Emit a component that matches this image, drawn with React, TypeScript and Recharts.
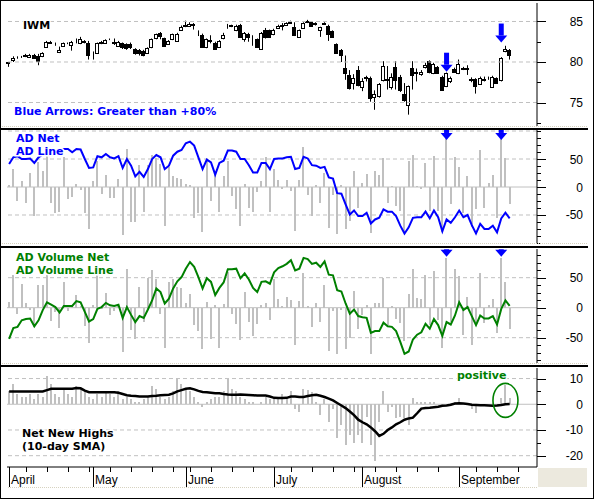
import React from 'react';
import { ComposedChart, Bar, Line, XAxis, YAxis, ReferenceLine, ReferenceDot } from 'recharts';

// IWM daily candles, April 2 - September 20 2007
const OPEN = [
  79.95, 80.2, 80.55, 80.65, 80.9, 80.6, 80.85, 80.8, 80.7, 81.9,
  82.5, 82.25, 81.2, 82.0, 82.35, 82.1, 82.65, 82.3, 82.65, 82.4,
  81.15, 81.1, 82.45, 82.4, 82.85, 82.45, 82.0, 82.3, 82.2, 82.25,
  81.6, 81.5, 81.4, 81.1, 81.8, 82.9, 83.6, 82.9, 82.2, 82.8,
  82.6, 84.0, 84.4, 84.5, 84.65, 83.85, 83.35, 81.8, 82.7, 82.4,
  81.9, 82.9, 84.5, 84.55, 83.9, 84.6, 82.8, 83.5, 82.65, 82.8,
  81.6, 84.0, 83.9, 83.4, 84.2, 84.55, 84.6, 84.95, 84.3, 83.1,
  84.2, 85.0, 84.9, 84.75, 84.0, 84.8, 84.5, 83.8, 82.2, 81.5,
  79.2, 78.4, 77.4, 79.0, 76.9, 78.15, 78.0, 75.7, 75.8, 77.8,
  77.85, 76.9, 79.4, 78.2, 76.1, 74.7, 79.2, 78.75, 78.5, 79.4,
  80.1, 78.6, 79.4, 78.2, 77.0, 77.6, 79.1, 78.7, 79.25, 79.2,
  77.85, 77.9, 77.3, 77.85, 78.05, 76.9, 78.0, 77.8, 81.3, 81.5,
];
const HIGH = [
  80.0, 80.7, 80.7, 80.75, 81.0, 81.0, 81.0, 81.0, 81.2, 82.6,
  82.6, 82.4, 81.9, 82.4, 82.4, 82.6, 82.9, 83.1, 82.7, 82.6,
  81.3, 82.4, 82.6, 82.8, 82.9, 82.9, 82.6, 82.4, 82.3, 82.4,
  81.7, 81.6, 81.5, 81.8, 82.9, 83.5, 83.7, 83.0, 82.7, 83.5,
  83.6, 84.5, 85.1, 84.9, 84.8, 83.9, 83.5, 82.9, 83.3, 82.5,
  82.7, 83.6, 84.7, 84.6, 84.6, 84.7, 83.7, 83.6, 83.3, 82.9,
  83.7, 84.2, 84.0, 84.1, 84.6, 84.8, 84.9, 85.1, 84.9, 84.0,
  84.9, 85.2, 85.0, 84.9, 84.35, 84.9, 84.6, 83.9, 82.3, 81.6,
  80.8, 79.0, 78.5, 79.5, 78.0, 78.3, 78.2, 76.5, 77.4, 80.1,
  79.5, 78.6, 80.1, 78.4, 77.4, 77.1, 80.1, 79.2, 79.0, 79.9,
  80.2, 79.9, 79.5, 78.3, 78.7, 78.2, 79.3, 80.3, 79.4, 79.6,
  78.1, 78.0, 78.2, 78.2, 78.2, 78.3, 78.1, 80.6, 82.0, 81.6,
];
const LOW = [
  79.4, 80.0, 80.4, 80.5, 80.6, 80.5, 80.4, 79.6, 80.6, 81.8,
  82.3, 82.0, 81.1, 81.9, 82.2, 81.4, 82.3, 82.2, 82.3, 80.3,
  80.3, 81.0, 82.2, 82.3, 82.7, 82.1, 81.9, 81.6, 81.5, 81.6,
  80.9, 80.8, 80.7, 81.0, 81.7, 82.8, 82.8, 81.9, 82.1, 82.7,
  82.5, 83.9, 84.3, 84.4, 84.0, 83.2, 81.8, 81.7, 82.3, 81.5,
  81.8, 82.8, 84.1, 84.3, 83.8, 83.0, 82.5, 82.5, 82.0, 81.8,
  81.5, 82.9, 83.0, 83.3, 84.1, 83.9, 84.5, 84.7, 83.2, 83.0,
  84.1, 84.8, 84.4, 84.5, 83.1, 84.6, 82.6, 83.0, 81.0, 80.0,
  77.8, 76.6, 76.6, 77.0, 76.4, 77.6, 75.1, 74.1, 75.6, 77.6,
  76.6, 76.6, 76.6, 76.3, 75.1, 73.5, 76.6, 77.6, 78.3, 79.2,
  78.6, 78.5, 78.6, 76.5, 76.9, 77.4, 78.7, 78.5, 79.0, 78.4,
  77.5, 76.1, 77.2, 77.6, 77.8, 76.8, 77.3, 77.6, 81.2, 80.3,
];
const CLOSE = [
  79.9, 80.5, 80.5, 80.6, 80.7, 80.9, 80.5, 80.1, 81.1, 82.5,
  82.4, 82.2, 81.5, 82.3, 82.3, 82.45, 82.55, 82.8, 82.5, 80.9,
  81.1, 82.3, 82.4, 82.7, 82.8, 82.35, 82.5, 81.8, 81.7, 81.8,
  81.1, 81.1, 80.9, 81.7, 82.8, 83.4, 83.2, 82.0, 82.6, 83.4,
  83.5, 84.3, 84.6, 84.7, 84.6, 83.8, 81.9, 82.8, 82.6, 81.6,
  82.6, 83.35, 84.4, 84.45, 84.5, 83.1, 83.6, 83.1, 82.55, 81.9,
  83.6, 83.1, 83.1, 84.0, 84.5, 84.5, 84.8, 84.8, 83.35, 83.9,
  84.8, 84.95, 84.5, 84.7, 84.3, 84.7, 83.5, 83.1, 81.1, 80.9,
  78.7, 76.8, 78.0, 77.2, 77.6, 78.05, 75.5, 76.0, 77.3, 79.5,
  77.75, 78.1, 77.8, 76.6, 75.3, 77.0, 78.4, 78.65, 78.8, 79.6,
  78.75, 79.7, 78.7, 76.6, 78.6, 78.0, 78.8, 79.7, 79.15, 79.1,
  77.8, 77.0, 78.0, 77.8, 78.0, 78.1, 77.4, 80.5, 81.6, 80.9,
];

const AD_NET = [
  3, 32, -25, 10, -28, 25, -51, 45, 29, 55,
  -29, -47, -44, 53, -22, -18, 5, -6, -47, -75,
  10, 47, -12, 22, -19, -20, 15, -85, 68, -62,
  -63, 39, -45, 39, 57, 51, 41, -70, 35, 20,
  16, 15, 5, 3, -55, -47, -80, 47, -25, 24,
  -45, 20, 47, -16, -40, -69, 5, -38, -45, -9,
  10, 54, -45, 32, 12, -3, 12, -8, -78, 13,
  72, -14, -52, 4, -28, 25, -74, -14, -84, 3,
  -75, -60, 28, -37, 7, 23, -83, 28, 21, 51,
  -28, 1, -34, -43, -81, 46, 57, 2, -3, 42,
  -43, 55, -43, -81, 98, -31, 54, 36, -46, 19,
  -72, -40, 66, -37, 7, 22, -55, 86, 51, -31,
];
const AD_LINE = [
  41, 53, 55, 50, 50, 51, 43, 53, 58, 62,
  60, 64, 66, 68, 68, 62, 68, 67, 50, 34,
  35, 55, 53, 59, 53, 51, 55, 34, 50, 38,
  19, 27, 18, 32, 50, 57, 53, 32, 38, 56,
  63, 66, 78, 81, 74, 53, 32, 49, 44, 22,
  43, 47, 65, 65, 63, 50, 50, 39, 26, 26,
  43, 43, 32, 50, 51, 51, 53, 54, 32, 34,
  54, 51, 39, 38, 34, 36, 17, 15, -11, -12,
  -31, -49, -42, -52, -52, -46, -65, -58, -55, -40,
  -44, -44, -52, -69, -83, -72, -55, -54, -54, -44,
  -56, -42, -54, -79, -58, -64, -54, -42, -54, -50,
  -68, -83, -66, -75, -75, -69, -81, -56, -46, -56,
];
const ADV_NET = [
  9, 54, -10, 40, 7, -4, -32, 37, 38, 54,
  -23, -7, -34, 42, -6, 4, 21, 3, -31, -59,
  5, 55, -3, 25, -12, -6, 6, -74, 65, -38,
  -52, 34, -24, 50, 62, 48, -10, -68, 43, 47,
  34, 32, 8, 22, -29, -39, -69, 10, -52, 5,
  -67, 6, 59, -10, -27, -54, 26, -24, -47, -27,
  4, 7, -21, 48, 14, 3, 18, 12, -62, 11,
  58, 3, -32, 8, -24, 37, -73, -6, -77, -4,
  -69, -51, 27, -36, -13, 4, -78, 7, 8, 49,
  -29, 3, -19, -25, -56, 22, 64, 16, 15, 54,
  -29, 61, -21, -68, 82, -24, 65, 52, -45, 18,
  -62, -29, 58, -25, 5, 15, -43, 82, 42, -35,
];
const ADV_LINE = [
  -52, -34, -32, -21, -19, -18, -31, -21, -4, 9,
  5, 1, -8, 3, 3, 3, 11, 9, -7, -23,
  -19, -2, 1, 8, 4, 3, 5, -17, 1, -12,
  -24, -14, -17, -3, 12, 32, 26, 7, 15, 32,
  44, 51, 65, 76, 68, 51, 32, 49, 43, 21,
  33, 42, 64, 64, 65, 49, 57, 47, 33, 26,
  43, 44, 40, 59, 66, 69, 73, 79, 62, 65,
  83, 81, 73, 75, 68, 77, 55, 54, 29, 27,
  7, -10, -3, -14, -16, -17, -42, -39, -39, -25,
  -31, -32, -39, -57, -77, -73, -53, -45, -41, -27,
  -35, -19, -29, -47, -24, -28, -13, 9, -4, 1,
  -14, -29, -13, -18, -18, -14, -28, -2, 12, 3,
];
const NNH = [
  5, 8, 4, 3, 3, 4, 2, 4, 3, 11,
  8, 4, 3, 6, 4, 3, 7, 6, 5, 3,
  2, 4, 3, 5, 4, 3, 5, 2, 3, 2,
  1, 1, 2, 3, 7, 6, 3, 2, 3, 5,
  10, 8, 6, 5, 3, 1, -1, 1, 2, 3,
  3, 5, 10, 6, 5, 3, 2, 1, 1, 0,
  1, 3, 2, 3, 3, 4, 3, 5, -2, -3,
  6, 5.6, 4.7, 1, -4, 2, -7, -2, -13, -8,
  -16, -12, -15, -12, -15, -5, -16, -22, -7, 5,
  -3, -1, -5.5, -5, -5.5, -8, 2.4, 0.8, 1, 0.8,
  1, 0.8, 0, -1, 0, 0.4, 1, 2.4, 0, 0,
  -2, -3.5, 0, -0.3, 0, -1, 0, 2.4, 7.3, 2.4,
];
const NNH_SMA = [
  5, 5, 5, 5, 5, 5, 5, 5, 5, 5.5,
  6, 6, 6, 6, 6, 6, 6.3, 6.2, 5.3, 4.7,
  4.7, 4.7, 4.7, 4.7, 4.7, 4.7, 4.5, 4.0, 3.5, 3.3,
  3.2, 3.0, 3.0, 3.0, 3.2, 3.3, 3.5, 3.6, 3.7, 4.2,
  5.0, 5.5, 6.0, 6.2, 5.8, 5.2, 4.8, 4.7, 4.5, 4.3,
  4.3, 4.0, 3.8, 3.7, 3.7, 3.8, 3.7, 3.6, 3.5, 3.4,
  3.4, 3.4, 3.0, 2.5, 2.4, 2.4, 2.5, 3.0, 3.0, 2.8,
  2.8, 3.2, 3.5, 3.7, 3.3, 2.8, 2.2, 1.5, 0.5, -0.5,
  -1.5, -2.8, -4.2, -6.0, -7.0, -7.8, -9.0, -10.5, -12.3, -11.5,
  -10.0, -9.0, -7.8, -7.0, -6.0, -5.5, -5.2, -3.5, -1.7, -1.5,
  -1.4, -1.2, -1.0, -0.6, -0.5, -0.2, 0.3, 0.4, 0.3, 0.1,
  -0.2, -0.3, -0.4, -0.4, -0.5, -0.6, -0.5, -0.3, 0.0, 0.1,
];

// axis slots run past the last trading day into late September
const SLOTS = 126;
const MONTH_STARTS = [0, 20, 42, 63, 84, 107];
const MONTH_NAMES = ['April', 'May', 'June', 'July', 'August', 'September'];
const WEEK_TICKS = [4, 9, 14, 19, 24, 29, 34, 39, 43, 48, 53, 58, 67, 72, 77, 82, 87, 92, 97, 102, 111, 116, 121];

const ARROW_DAYS = [104, 117];
const ARROW_PRICE = [78.8, 82.4];
const ARROW_AD = 84;
const ARROW_ADV = 85;

const P1_TICKS = [72.5, 75, 77.5, 80, 82.5, 85];
const P1_MAJOR = [75, 80, 85];
const P2_TICKS = [-100, -87.5, -75, -62.5, -50, -37.5, -25, -12.5, 0, 12.5, 25, 37.5, 50, 62.5, 75, 87.5, 100];
const P3_TICKS = [-87.5, -75, -62.5, -50, -37.5, -25, -12.5, 0, 12.5, 25, 37.5, 50, 62.5, 75, 87.5];
const AD_MAJOR = [-50, 0, 50];
const P4_TICKS = [-20, -15, -10, -5, 0, 5, 10];
const P4_MAJOR = [-20, -10, 0, 10];

const rows = Array.from({ length: SLOTS }, (_, i) =>
  i < OPEN.length
    ? {
        i,
        o: OPEN[i], h: HIGH[i], l: LOW[i], c: CLOSE[i],
        range: [LOW[i], HIGH[i]],
        adNet: AD_NET[i], adLine: AD_LINE[i],
        advNet: ADV_NET[i], advLine: ADV_LINE[i],
        nnh: NNH[i], sma: NNH_SMA[i],
      }
    : { i }
);

const W = 594;
const MARGIN = { top: 0, right: 0, bottom: 0, left: 7 };
const LABEL_FONT = '"DejaVu Sans", Verdana, sans-serif';
const AXIS_FONT = '"Liberation Sans", Arial, sans-serif';
const GRAY = '#c0c0c0';

const Candle = (props: any) => {
  const { x, y, width, height, payload } = props;
  if (payload == null || payload.o == null || !height) return null;
  const k = height / (payload.h - payload.l);
  const cx = Math.floor(x + width / 2) + 0.5;
  const top = Math.round(y + (payload.h - Math.max(payload.o, payload.c)) * k) + 0.5;
  const bot = Math.round(y + (payload.h - Math.min(payload.o, payload.c)) * k) + 0.5;
  const dark = payload.c < payload.o;
  return (
    <g>
      <line x1={cx} x2={cx} y1={y} y2={y + height} stroke="#000" />
      <rect x={cx - 2} y={top} width={3} height={Math.max(bot - top, 0)} fill={dark ? '#000' : '#fff'} stroke="#000" />
    </g>
  );
};

const GrayBar = (props: any) => {
  const { x, y, width, height } = props;
  if (height == null || Number.isNaN(y)) return null;
  const cx = Math.round(x + width / 2);
  const y0 = Math.round(y);
  const y1 = Math.round(y + height);
  return <rect x={cx - 1} y={Math.min(y0, y1)} width={2} height={Math.abs(y1 - y0)} fill={GRAY} />;
};

const Arrow = (props: any) => {
  const { cx, cy } = props;
  if (cx == null || cy == null) return null;
  return (
    <g fill="#0000ff">
      <rect x={cx - 2.5} y={cy - 19} width={5} height={12} />
      <polygon points={`${cx - 6},${cy - 7} ${cx + 6},${cy - 7} ${cx},${cy}`} />
    </g>
  );
};

const Ellipse = (props: any) => {
  const { cx, cy } = props;
  if (cx == null || cy == null) return null;
  return <ellipse cx={cx} cy={cy} rx={12.5} ry={17} fill="none" stroke="#008000" strokeWidth={1.6} />;
};

function rightTick(majors: number[]) {
  return (props: any) => {
    const { x, y, payload } = props;
    const v = payload.value;
    const major = majors.includes(v);
    const yy = Math.round(y) + 0.5;
    return (
      <g>
        <line x1={x} x2={x + (major ? 9 : 4)} y1={yy} y2={yy} stroke="#000" />
        {major && (
          <text x={x + 46} y={y + 4.5} textAnchor="end" fontSize={12} fontFamily={AXIS_FONT} fill="#000">
            {v}
          </text>
        )}
      </g>
    );
  };
}

const DateTick = (props: any) => {
  const { x, y, payload } = props;
  const idx = payload.value;
  const px = Math.round(x) + 0.5;
  const m = MONTH_STARTS.indexOf(idx);
  if (m >= 0) {
    return (
      <g>
        <line x1={px} x2={px} y1={y} y2={y + 20} stroke="#000" />
        <text x={px + 1.5} y={y + 17} fontSize={12} fontFamily={AXIS_FONT} fill="#000">
          {MONTH_NAMES[m]}
        </text>
      </g>
    );
  }
  if (WEEK_TICKS.includes(idx)) return <line x1={px} x2={px} y1={y} y2={y + 5} stroke="#000" />;
  return <g />;
};

function grid(values: number[]) {
  return values.map((v) => (
    <ReferenceLine key={v} y={v} stroke={GRAY} strokeDasharray="4 3" ifOverflow="extendDomain" />
  ));
}

function yAxis(domain: [number, number], ticks: number[], majors: number[]) {
  return (
    <YAxis
      orientation="right"
      type="number"
      width={57}
      domain={domain}
      allowDataOverflow
      ticks={ticks}
      interval={0}
      tickSize={0}
      tickMargin={0}
      tickLine={false}
      axisLine={{ stroke: '#000' }}
      tick={rightTick(majors)}
    />
  );
}

const hiddenX = <XAxis dataKey="i" type="category" scale="band" hide />;

const Label = ({ x, y, color, children }: any) => (
  <text
    x={x}
    y={y}
    fontFamily={LABEL_FONT}
    fontWeight="bold"
    fontSize={11}
    fill={color}
    stroke="#fff"
    strokeWidth={3}
    paintOrder="stroke"
  >
    {children}
  </text>
);

export default function App() {
  return (
    <div style={{ position: 'relative', width: W, height: 500, background: '#fff', overflow: 'hidden' }}>
      <style>{'body{margin:0}'}</style>

      {/* price panel */}
      <div style={{ position: 'absolute', left: 0, top: 3 }}>
        <ComposedChart width={W} height={123} data={rows} margin={MARGIN}>
          {hiddenX}
          {yAxis([72.1, 87.28], P1_TICKS, P1_MAJOR)}
          {grid([75, 80, 85])}
          <Bar dataKey="range" barSize={5} shape={Candle} isAnimationActive={false} />
          {ARROW_DAYS.map((d, k) => (
            <ReferenceDot key={d} x={d} y={ARROW_PRICE[k]} r={1} shape={Arrow} />
          ))}
        </ComposedChart>
      </div>

      {/* AD net / AD line */}
      <div style={{ position: 'absolute', left: 0, top: 130 }}>
        <ComposedChart width={W} height={114} data={rows} margin={MARGIN}>
          {hiddenX}
          {yAxis([-101.8, 101.8], P2_TICKS, AD_MAJOR)}
          <ReferenceLine y={0} stroke={GRAY} />
          {grid([100, 50, -50])}
          <Bar dataKey="adNet" barSize={2} shape={GrayBar} isAnimationActive={false} />
          <Line dataKey="adLine" type="linear" stroke="#0000ff" strokeWidth={2} dot={false} isAnimationActive={false} />
          {ARROW_DAYS.map((d) => (
            <ReferenceDot key={d} x={d} y={ARROW_AD} r={1} shape={Arrow} />
          ))}
        </ComposedChart>
      </div>

      {/* AD volume net / AD volume line */}
      <div style={{ position: 'absolute', left: 0, top: 249 }}>
        <ComposedChart width={W} height={114} data={rows} margin={MARGIN}>
          {hiddenX}
          {yAxis([-92.2, 97.8], P3_TICKS, AD_MAJOR)}
          <ReferenceLine y={0} stroke={GRAY} />
          {grid([50, -50])}
          <Bar dataKey="advNet" barSize={2} shape={GrayBar} isAnimationActive={false} />
          <Line dataKey="advLine" type="linear" stroke="#008000" strokeWidth={2} dot={false} isAnimationActive={false} />
          {ARROW_DAYS.map((d) => (
            <ReferenceDot key={d} x={d} y={ARROW_ADV} r={1} shape={Arrow} />
          ))}
        </ComposedChart>
      </div>

      {/* net new highs */}
      <div style={{ position: 'absolute', left: 0, top: 368 }}>
        <ComposedChart width={W} height={119} data={rows} margin={MARGIN}>
          <XAxis
            dataKey="i"
            type="category"
            scale="band"
            height={20}
            interval={0}
            tickSize={0}
            tickMargin={0}
            tickLine={false}
            axisLine={{ stroke: '#000' }}
            tick={DateTick}
          />
          {yAxis([-24.4, 14.1], P4_TICKS, P4_MAJOR)}
          <ReferenceLine y={0} stroke={GRAY} />
          {grid([10, -10, -20])}
          <Bar dataKey="nnh" barSize={2} shape={GrayBar} isAnimationActive={false} />
          <Line dataKey="sma" type="linear" stroke="#000" strokeWidth={2.5} dot={false} isAnimationActive={false} />
          <ReferenceDot x={118} y={1.5} r={1} shape={Ellipse} />
        </ComposedChart>
      </div>

      {/* frame, separators and panel captions */}
      <svg width={W} height={500} style={{ position: 'absolute', left: 0, top: 0, pointerEvents: 'none' }}>
        <g stroke="#d6d2c0" strokeDasharray="1 1">
          <line x1={0} x2={588} y1={126.5} y2={126.5} />
          <line x1={0} x2={588} y1={243.5} y2={243.5} />
          <line x1={0} x2={588} y1={363.5} y2={363.5} />
          <line x1={8} x2={537} y1={487.5} y2={487.5} />
        </g>
        <g stroke="#000" strokeWidth={2}>
          <line x1={0} x2={588} y1={129} y2={129} />
          <line x1={0} x2={588} y1={247} y2={247} />
          <line x1={0} x2={588} y1={366} y2={366} />
        </g>
        <rect x={538} y={468} width={49} height={19} fill="#ece9de" />
        <rect x={0.5} y={0.5} width={593} height={498} fill="none" stroke="#000" />
        <line x1={0} x2={594} y1={498.5} y2={498.5} stroke="#000" />

        <Label x={23} y={28.5} color="#000">IWM</Label>
        <Label x={14} y={115} color="#0000ff">Blue Arrows: Greater than +80%</Label>
        <Label x={16} y={141.5} color="#0000ff">AD Net</Label>
        <Label x={16} y={154.5} color="#0000ff">AD Line</Label>
        <Label x={16} y={260.5} color="#008000">AD Volume Net</Label>
        <Label x={16} y={273.5} color="#008000">AD Volume Line</Label>
        <Label x={22} y={436.5} color="#000">Net New Highs</Label>
        <Label x={22} y={449.5} color="#000">(10-day SMA)</Label>
        <Label x={457} y={379} color="#008000">positive</Label>
      </svg>
    </div>
  );
}
